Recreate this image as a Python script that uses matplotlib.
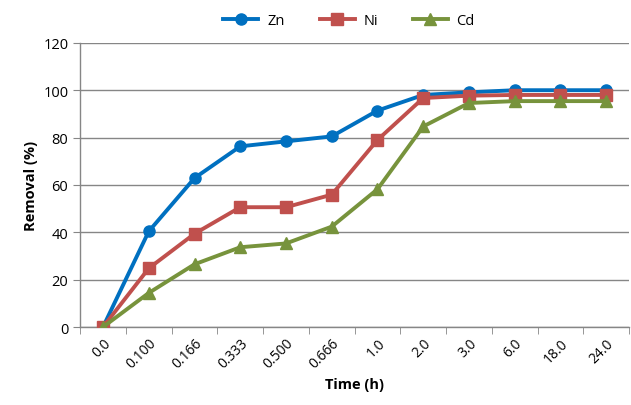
import numpy as np
import matplotlib
matplotlib.use('Agg')
import matplotlib.pyplot as plt

time_labels = ['0.0', '0.100', '0.166', '0.333', '0.500', '0.666',
               '1.0', '2.0', '3.0', '6.0', '18.0', '24.0']
zn = [0, 40.4, 62.9, 76.3, 78.4, 80.5, 91.4, 98.0, 99.1, 100, 100, 100]
ni = [0, 24.8, 39.4, 50.6, 50.6, 55.9, 79.0, 96.7, 97.7, 98.0, 98.0, 98.0]
cd = [0, 14.4, 26.5, 33.7, 35.3, 42.4, 58.2, 84.7, 94.6, 95.4, 95.4, 95.4]


def main():
    plt.rcParams['font.family'] = ['Open Sans', 'DejaVu Sans']
    fig = plt.figure(figsize=(6.31, 4.06), dpi=100)
    ax = fig.add_axes([0.127, 0.192, 0.870, 0.700])

    x = np.arange(len(time_labels))
    ax.plot(x, zn, color='#0070C0', lw=2.8, marker='o', ms=8, label='Zn', zorder=3)
    ax.plot(x, ni, color='#C0504D', lw=2.8, marker='s', ms=8, label='Ni', zorder=3)
    ax.plot(x, cd, color='#77933C', lw=2.8, marker='^', ms=8, label='Cd', zorder=3)

    ax.set_xlim(-0.5, len(time_labels) - 0.5)
    ax.set_ylim(0, 120)
    ax.set_yticks(range(0, 121, 20))
    ax.set_xticks(x)
    ax.set_xticklabels(time_labels, rotation=45, ha='right', rotation_mode='anchor', fontsize=10)
    ax.set_xticks(np.arange(-0.5, len(time_labels), 1), minor=True)
    ax.tick_params(axis='x', which='major', length=0, pad=6)
    ax.tick_params(axis='x', which='minor', length=5, color='#868686')
    ax.tick_params(axis='y', length=5, color='#868686', labelsize=10.5)
    ax.grid(axis='y', color='#868686', lw=1)
    ax.set_axisbelow(True)

    for s in ['top', 'right']:
        ax.spines[s].set_visible(False)
    for s in ['left', 'bottom']:
        ax.spines[s].set_color('#868686')
        ax.spines[s].set_linewidth(1)

    ax.set_xlabel('Time (h)', fontweight='bold', fontsize=10.5)
    ax.set_ylabel('Removal (%)', fontweight='bold', fontsize=10.5)

    ax.legend(loc='lower center', bbox_to_anchor=(0.49, 1.005), ncol=3, frameon=False,
              fontsize=10.5, handlelength=2.4, handletextpad=0.6, columnspacing=2.4)

    fig.savefig('out.png', dpi=100)


if __name__ == '__main__':
    main()
